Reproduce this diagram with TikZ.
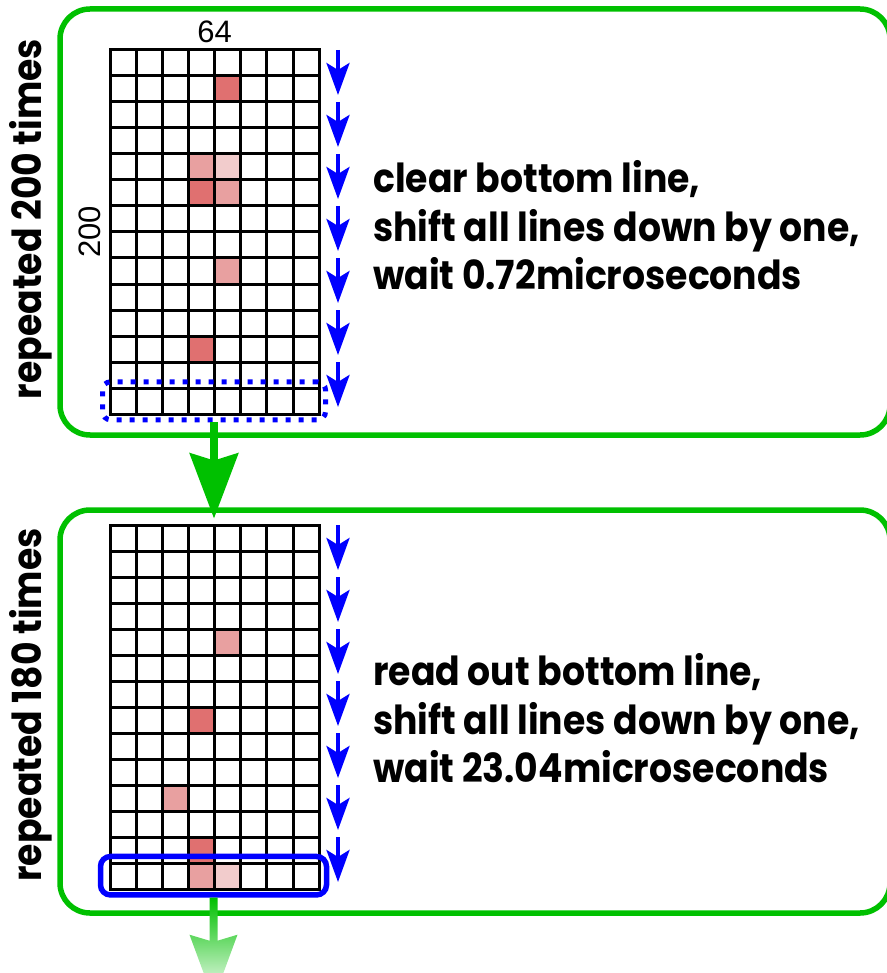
\documentclass[tikz,border=0pt]{standalone}
\usepackage{fontspec}
\setmainfont{Liberation Sans}
\newfontfamily\stepfont[FakeStretch=0.905]{Poppins}
\usetikzlibrary{arrows.meta,calc}

\definecolor{stagegreen}{RGB}{0,192,0}
\definecolor{shiftblue}{RGB}{0,0,255}
\definecolor{hitdark}{RGB}{224,112,112}
\definecolor{hitmid}{RGB}{232,160,160}
\definecolor{hitlight}{RGB}{242,204,204}

% pixel grid of the sensor: 8 columns x 14 rows
\newcommand\cw{26.15}
\newcommand\ch{26}
% one charged pixel: colour, column, row, top of the grid
\newcommand\hitcell[4]{\fill[#1] (110+#2*\cw, #4+#3*\ch) rectangle ++(\cw,\ch);}
% the grid itself: node name, top of the grid
\newcommand\sensorgrid[2]{%
  \node[gridframe] (#1) at (214.6, #2+182) {};
  \foreach \i in {1,...,7} \draw[gridline] (110+\i*\cw, #2) -- ++(0,364);
  \foreach \j in {1,...,13} \draw[gridline] (110, #2+\j*\ch) -- ++(209.2,0);
  \foreach \k in {0,...,6} \draw[shiftarrow] (338, #2+52*\k) -- (338, #2+45+52*\k);
}

\begin{document}
\begin{tikzpicture}[x=1pt, y=-1pt,
  stagebox/.style={draw=stagegreen, line width=5.5pt, rounded corners=30pt, inner sep=0pt},
  gridframe/.style={draw=black, line width=3pt, minimum width=209.2pt, minimum height=364pt, inner sep=0pt},
  gridline/.style={draw=black, line width=3pt},
  shiftarrow/.style={draw=shiftblue, line width=4pt, -{Stealth[length=32pt, width=23pt, inset=7pt]}},
  flowarrow/.style={draw=stagegreen, line width=8pt, -{Stealth[length=65pt, width=48pt, inset=7pt]}},
  dotbox/.style={draw=shiftblue, line width=5pt, dash pattern=on 5pt off 8pt, rounded corners=8pt, inner sep=0pt},
  readbox/.style={draw=shiftblue, line width=5.5pt, rounded corners=10pt, inner sep=0pt},
  stepnote/.style={font=\stepfont\bfseries\fontsize{40}{48}\selectfont, inner sep=0pt},
  sizelabel/.style={font=\fontsize{31}{36}\selectfont, inner sep=0pt}
]
\useasboundingbox (0,0) rectangle (886,973);

% the two stages
\node[stagebox, minimum width=830pt, minimum height=426pt] (stage1) at (475,222) {};
\node[stagebox, minimum width=830pt, minimum height=403pt] (stage2) at (475,711.5) {};

% stage 1: clearing
\hitcell{hitdark}{4}{1}{50}
\hitcell{hitmid}{3}{4}{50}
\hitcell{hitlight}{4}{4}{50}
\hitcell{hitdark}{3}{5}{50}
\hitcell{hitmid}{4}{5}{50}
\hitcell{hitmid}{4}{8}{50}
\hitcell{hitdark}{3}{11}{50}
\sensorgrid{grid1}{50}
\node[sizelabel, anchor=base] (cols) at (214.6,42.7) {64};
\node[sizelabel, rotate=90, anchor=base] (rows) at (100.5,232) {200};
\node[dotbox, minimum width=223pt, minimum height=38pt] (clearrow) at (214,400.8) {};

\node[stepnote, anchor=base west] (clearA) at (373,192.5) {clear bottom line,};
\node[stepnote, anchor=base west] (clearB) at (373,241.5) {shift all lines down by one,};
\node[stepnote, anchor=base west] (clearC) at (373,289.5) {wait 0.72microseconds};
\node[stepnote, rotate=90, anchor=base] (loop1) at (41,219) {repeated 200 times};

% stage 2: readout
\hitcell{hitmid}{4}{4}{525}
\hitcell{hitdark}{3}{7}{525}
\hitcell{hitmid}{2}{10}{525}
\hitcell{hitdark}{3}{12}{525}
\hitcell{hitmid}{3}{13}{525}
\hitcell{hitlight}{4}{13}{525}
\sensorgrid{grid2}{525}
\node[readbox, minimum width=226pt, minimum height=38.5pt] (readrow) at (213.5,875.7) {};

\node[stepnote, anchor=base west] (readA) at (373,685) {read out bottom line,};
\node[stepnote, anchor=base west] (readB) at (373,734) {shift all lines down by one,};
\node[stepnote, anchor=base west] (readC) at (373,782.5) {wait 23.04microseconds};
\node[stepnote, rotate=90, anchor=base] (loop2) at (41,705) {repeated 180 times};

% flow between the stages
\draw[flowarrow, shorten >=5pt] (clearrow.south) -- (clearrow.south |- grid2.north);

% read-out data leaving the sensor, fading away
\coordinate (drain) at ($(readrow.south)+(0,102)$);
\shade[top color=stagegreen, middle color=stagegreen!35!white, bottom color=white]
  ($(readrow.south)+(-4,0)$) -- ($(drain)+(-4,-59)$) -- ($(drain)+(-24,-65)$) -- (drain)
  -- ($(drain)+(24,-65)$) -- ($(drain)+(4,-59)$) -- ($(readrow.south)+(4,0)$) -- cycle;
\end{tikzpicture}
\end{document}
